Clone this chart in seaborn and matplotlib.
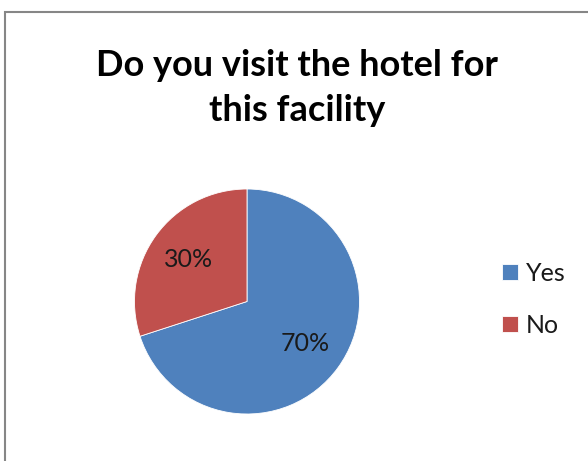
import matplotlib
matplotlib.use("Agg")
import matplotlib.pyplot as plt
import seaborn as sns
from matplotlib.patches import Rectangle

labels = ["Yes", "No"]
shares = [70, 30]
colors = ["#4F81BD", "#C0504D"]
title = "Do you visit the hotel for\nthis facility"

sns.set_style("white")
plt.rcParams["font.family"] = ["Lato", "DejaVu Sans"]

W, H = 588, 461
fig = plt.figure(figsize=(W / 100, H / 100), dpi=100)

# chart-area border (only left and top visible in the crop)
fig.patches.append(Rectangle((5 / W, -0.1), 1.2, (H - 12) / H + 0.1,
                             transform=fig.transFigure, fill=False,
                             edgecolor="#868686", linewidth=1.5))

cx, cy, r = 247, 301.5, 112.5
ax = fig.add_axes([(cx - r) / W, (H - cy - r) / H, 2 * r / W, 2 * r / H])
wedges, texts, autotexts = ax.pie(shares, colors=colors, startangle=90, counterclock=False,
                                  autopct="%d%%", pctdistance=0.64,
                                  wedgeprops=dict(linewidth=0.6, edgecolor="white"),
                                  textprops=dict(fontsize=18, color="#1a1a1a"))
ax.set_xlim(-1, 1)
ax.set_ylim(-1, 1)
ax.set_aspect("equal")
ax.axis("off")

fig.text(297 / W, 1 - 88 / H, title, ha="center", va="center", fontsize=26,
         fontweight="bold", linespacing=1.45, color="black")

fig.legend(wedges, labels, loc="upper left", bbox_to_anchor=(502 / W, 1 - 262 / H),
           frameon=False, fontsize=18, handlelength=0.64, handleheight=0.64,
           handletextpad=0.3, labelspacing=1.15, borderpad=0, borderaxespad=0,
           labelcolor="#1a1a1a")

fig.savefig("out.png", dpi=100)
